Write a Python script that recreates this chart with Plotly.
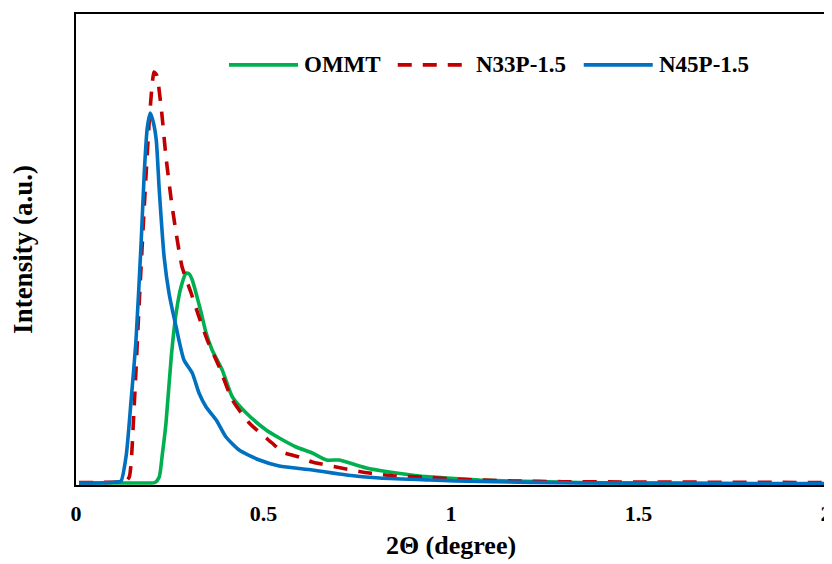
import plotly.graph_objects as go

# 2-theta values (degree) and intensities (a.u.)
x_ommt = [0.008, 0.10, 0.195, 0.211, 0.222, 0.230, 0.240, 0.254, 0.267, 0.280, 0.294, 0.302,
          0.310, 0.320, 0.334, 0.347, 0.363, 0.390, 0.417, 0.454, 0.507, 0.542, 0.587, 0.630,
          0.668, 0.702, 0.721, 0.774, 0.836, 0.916, 0.988, 1.076, 1.164, 1.343, 1.6, 2.0]
y_ommt = [2, 2, 2, 2.5, 8, 30, 62, 128, 172, 198, 212, 211,
          205, 192, 172, 152, 135, 115, 88, 72, 55, 47, 38, 32,
          25, 25, 23, 17, 13, 9, 7, 5, 4, 2.5, 1.5, 1]

x_n33 = [0.008, 0.06, 0.110, 0.123, 0.131, 0.142, 0.155, 0.168, 0.182, 0.195, 0.203, 0.208,
         0.215, 0.227, 0.240, 0.254, 0.267, 0.283, 0.307, 0.328, 0.350, 0.382, 0.417, 0.462,
         0.523, 0.550, 0.595, 0.630, 0.707, 0.782, 0.854, 0.924, 1.004, 1.076, 1.164, 1.298,
         1.5, 2.0]
y_n33 = [2.5, 2.5, 3, 4, 3, 8, 78, 178, 278, 362, 400, 413,
         410, 378, 328, 285, 252, 218, 192, 168, 145, 118, 85, 62,
         42, 33, 28, 23, 17, 12, 9, 8, 6, 5, 4, 3.3,
         3, 2.5]

x_n45 = [0.008, 0.061, 0.109, 0.120, 0.134, 0.147, 0.160, 0.174, 0.182, 0.190, 0.198, 0.206,
         0.214, 0.222, 0.235, 0.248, 0.267, 0.288, 0.310, 0.328, 0.347, 0.374, 0.400, 0.435,
         0.489, 0.542, 0.630, 0.721, 0.809, 0.943, 1.076, 1.343, 1.6, 1.8, 2.0]
y_n45 = [2, 2, 3, 4, 30, 85, 145, 245, 312, 357, 372, 363,
         345, 295, 228, 192, 158, 125, 112, 92, 78, 65, 48, 35,
         25, 19, 15, 10, 7, 5, 3.5, 2, 2, 1.5, 1.5]

series_names = ["OMMT", "N33P-1.5", "N45P-1.5"]
series_colors = ["#00B050", "#C00000", "#0070C0"]
series_dash = ["solid", "14px,11px", "solid"]

x_ticks = [0, 0.5, 1, 1.5, 2]
x_tick_text = ["0", "0.5", "1", "1.5", "2"]

FONT = "Liberation Serif"

fig = go.Figure()
for xs, ys, name, color, dash in zip([x_ommt, x_n33, x_n45], [y_ommt, y_n33, y_n45],
                                     series_names, series_colors, series_dash):
    fig.add_trace(go.Scatter(x=xs, y=ys, mode="lines", name=name, showlegend=False,
                             line=dict(color=color, width=3.6, dash=dash,
                                       shape="spline", smoothing=0.6)))

# legend drawn in paper coordinates (long line samples as in the reference)
legend_y = 0.892
legend_line_x = [(0.204, 0.296), (0.429, 0.523), (0.677, 0.769)]
legend_text_x = [0.301, 0.530, 0.775]
for (x0, x1), tx, name, color, dash in zip(legend_line_x, legend_text_x, series_names,
                                           series_colors, series_dash):
    fig.add_shape(type="line", xref="paper", yref="paper", x0=x0, x1=x1, y0=legend_y, y1=legend_y,
                  line=dict(color=color, width=3.6, dash=dash))
    fig.add_annotation(xref="paper", yref="paper", x=tx, y=legend_y, xanchor="left",
                       yanchor="middle", showarrow=False, text="<b>%s</b>" % name,
                       font=dict(family=FONT, size=23, color="black"))

fig.update_layout(
    width=824, height=556,
    margin=dict(l=68, r=6, t=6, b=79),
    paper_bgcolor="white", plot_bgcolor="white",
    font=dict(family=FONT, color="black", size=22),
    showlegend=False,
    xaxis=dict(range=[0, 2], tickvals=x_ticks, ticktext=["<b>%s</b>" % t for t in x_tick_text],
               tickfont=dict(family=FONT, size=22),
               showgrid=False, zeroline=False, showline=True, linecolor="black", linewidth=2,
               mirror=True, ticks="", ticklabelstandoff=8,
               title=dict(text="<b>2Θ (degree)</b>", font=dict(family=FONT, size=26), standoff=10),
               automargin=False),
    yaxis=dict(range=[0, 471], showticklabels=False, showgrid=False, zeroline=False,
               showline=True, linecolor="black", linewidth=2, mirror=True, ticks="",
               title=dict(text="<b>Intensity (a.u.)</b>", font=dict(family=FONT, size=27), standoff=38),
               automargin=False),
)

fig.write_html("out.html")
